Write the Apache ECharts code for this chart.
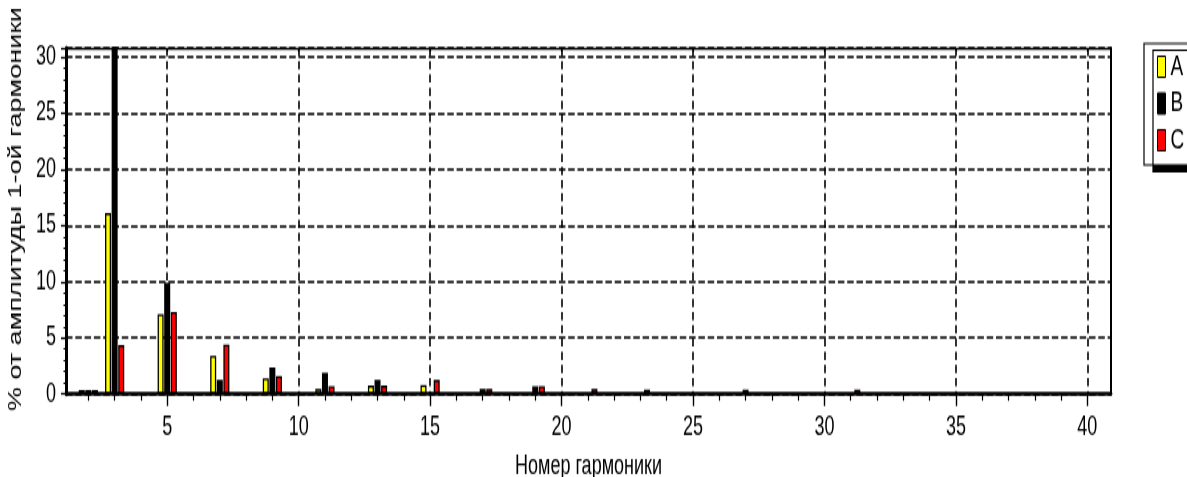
<!DOCTYPE html>
<html><head><meta charset="utf-8">
<script src="https://cdn.jsdelivr.net/npm/echarts@6/dist/echarts.min.js"></script>
<style>
html,body{margin:0;padding:0;background:#fff;overflow:hidden}
#wrap{width:1187px;height:477px;overflow:hidden;position:relative}
#c{width:1187px;height:318px;transform:scaleY(1.5);transform-origin:0 0}
</style>
</head><body><div id="wrap"><div id="c"></div></div>
<script>
// Harmonic numbers
const harmonics = [2,3,4,5,6,7,8,9,10,11,12,13,14,15,16,17,18,19,20,21,22,23,24,25,26,27,28,29,30,31,32,33,34,35,36,37,38,39,40];
// % of fundamental amplitude, phases A, B, C
const seriesA = [0.35,16.1,0,7.1,0,3.4,0,1.4,0,0.45,0,0.75,0,0.8,0,0,0,0,0,0,0,0,0,0,0,0,0,0,0,0,0,0,0,0,0,0,0,0,0];
const seriesB = [0.35,31,0,9.9,0,1.25,0,2.35,0,1.9,0,1.25,0,0.1,0,0.45,0,0.7,0,0,0,0,0,0,0,0.4,0,0,0,0,0,0,0,0,0,0,0,0,0];
const seriesC = [0.35,4.35,0,7.3,0,4.4,0,1.6,0,0.7,0,0.75,0,1.25,0,0.45,0,0.7,0,0.45,0,0.4,0,0,0,0,0,0,0,0.4,0,0,0,0,0,0,0,0,0];
const seriesNames = ['A','B','C'];
const seriesColors = ['#ffff00','#000000','#ff0000'];
const xMajorTicks = [5,10,15,20,25,30,35,40];
const xMinorTicks = [2,3,4,6,7,8,9,11,12,13,14,16,17,18,19,21,22,23,24,26,27,28,29,31,32,33,34,36,37,38,39];
const xTitle = 'Номер гармоники';
const yTitle = '% от амплитуды 1-ой гармоники';

const FONT = "'Liberation Sans', Arial, sans-serif";
const XMIN = 1.15, XMAX = 40.9, YMIN = 0, YMAX = 30.8;

const chart = echarts.init(document.getElementById('c'), null, {renderer:'canvas'});
const values = [seriesA, seriesB, seriesC];
chart.setOption({
  animation:false,
  backgroundColor:'#fff',
  grid:{left:66, right:76, top:32, bottom:55.3, show:false, containLabel:false, outerBoundsMode:'none'},
  legend:{
    orient:'vertical', left:1144, top:29, icon:'rect',
    itemWidth:8, itemHeight:14, itemGap:5.5, itemTextGap:6,
    padding:[6,30,7,13],
    backgroundColor:'#fff', borderColor:'#000', borderWidth:1.2,
    shadowColor:'#000', shadowBlur:0, shadowOffsetX:9, shadowOffsetY:4.5,
    itemStyle:{borderColor:'#000', borderWidth:1},
    textStyle:{fontFamily:FONT, fontSize:19, color:'#000'},
    data:seriesNames
  },
  xAxis:[
    {type:'value', min:XMIN, max:XMAX, position:'bottom', z:3,
     axisLine:{show:true, onZero:false, lineStyle:{color:'#000', width:2.7}},
     axisTick:{show:true, customValues:xMajorTicks, length:8, lineStyle:{color:'#000', width:1.4}},
     axisLabel:{show:true, customValues:xMajorTicks, margin:13, fontFamily:FONT, fontSize:18, color:'#000'},
     splitLine:{show:true, lineStyle:{color:'#000', width:1.6, type:[5.5,3.3]}},
     name:xTitle, nameLocation:'middle', nameGap:39,
     nameTextStyle:{fontFamily:FONT, fontSize:18, color:'#000'}},
    {type:'value', min:XMIN, max:XMAX, position:'bottom', z:3,
     axisLine:{show:false},
     axisTick:{show:true, customValues:xMinorTicks, length:4.5, lineStyle:{color:'#000', width:1.2}},
     axisLabel:{show:false}, splitLine:{show:false}},
    {type:'value', min:XMIN, max:XMAX, position:'top', z:3,
     axisLine:{show:true, onZero:false, lineStyle:{color:'#000', width:1.4}},
     axisTick:{show:true, inside:true, customValues:xMajorTicks, length:2.5, lineStyle:{color:'#000', width:1.2}},
     axisLabel:{show:false}, splitLine:{show:false}}
  ],
  yAxis:[
    {type:'value', min:YMIN, max:YMAX, interval:5, position:'left',
     axisLine:{show:true, onZero:false, lineStyle:{color:'#000', width:3}},
     axisTick:{show:true, length:5, lineStyle:{color:'#000', width:1.3}},
     minorTick:{show:true, splitNumber:5, length:2.5, lineStyle:{color:'#000', width:1}},
     axisLabel:{show:true, margin:10, showMaxLabel:false, fontFamily:FONT, fontSize:18, color:'#000'},
     splitLine:{show:true, lineStyle:{color:'#000', width:1.5, type:[6.5,2.8]}},
     name:yTitle, nameLocation:'middle', nameGap:41,
     nameTextStyle:{fontFamily:FONT, fontSize:18, color:'#000', padding:[0,0,0,16]}},
    {type:'value', min:YMIN, max:YMAX, position:'right',
     axisLine:{show:true, onZero:false, lineStyle:{color:'#000', width:2}},
     axisTick:{show:false}, axisLabel:{show:false}, splitLine:{show:false}}
  ],
  series: seriesNames.map((n,k)=>({
    name:n, type:'bar', xAxisIndex:0, yAxisIndex:0, clip:true,
    barWidth:6, barGap:'10%',
    itemStyle:{color:seriesColors[k], borderColor:'#000', borderWidth:1.3},
    data: harmonics.map((h,i)=>[h, values[k][i]])
  }))
});
</script>
</body></html>
